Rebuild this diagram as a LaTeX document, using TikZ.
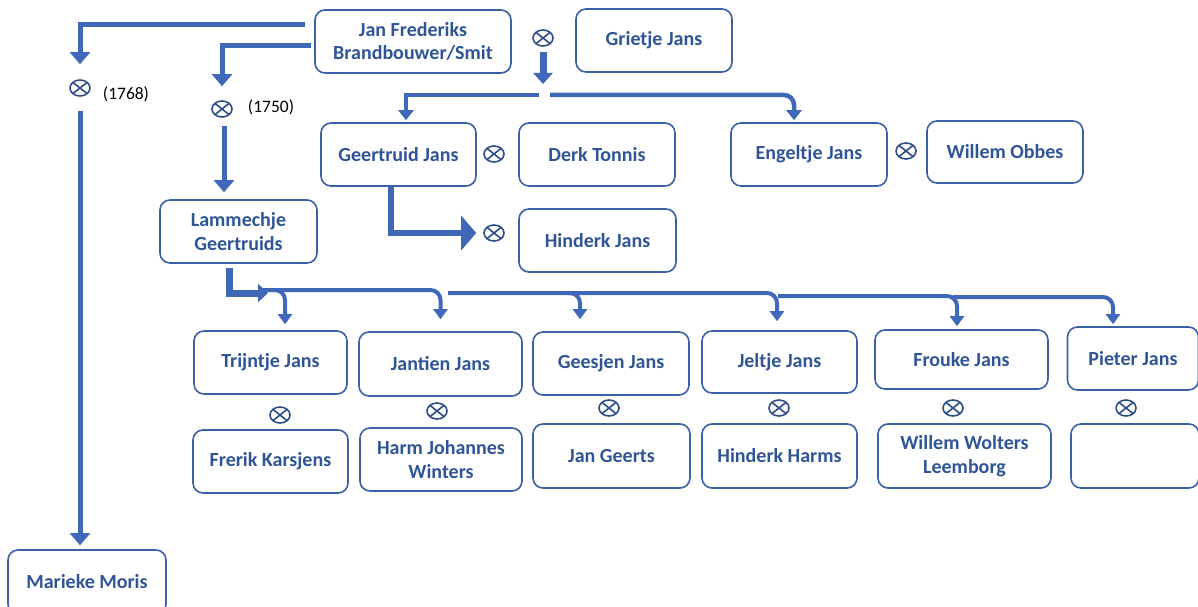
\documentclass[tikz,border=0pt]{standalone}
\usepackage{fontspec}
\setmainfont{Carlito}
\usetikzlibrary{arrows.meta,shapes.geometric}
\definecolor{txtc}{HTML}{2F5597}
\definecolor{boxc}{HTML}{3A60A6}
\definecolor{arrc}{HTML}{3F69B8}
\definecolor{mrkc}{HTML}{2E4C87}
\begin{document}
\begin{tikzpicture}[x=1pt,y=-1pt,
  box/.style={draw=boxc, line width=1.6pt, rounded corners=10pt, fill=white, text=txtc,
    font=\fontsize{20}{23.5}\selectfont\bfseries, align=center, inner sep=0pt},
  mar/.style={ellipse, draw=mrkc, line width=1.6pt, minimum width=20pt, minimum height=16pt, inner sep=0pt,
    path picture={\draw[mrkc,line width=1.6pt] (path picture bounding box.north west)--(path picture bounding box.south east)
      (path picture bounding box.north east)--(path picture bounding box.south west);}},
  yr/.style={font=\fontsize{17.5}{20}\selectfont, text=black},
  conn/.style={draw=arrc, line width=5pt, -{Triangle[width=20pt,length=12pt]}},
  connw/.style={draw=arrc, line width=7pt, -{Triangle[width=19pt,length=11pt]}},
  busl/.style={draw=arrc, line width=4.5pt, -{Triangle[width=15pt,length=10pt]}},
  bus/.style={draw=arrc, line width=4pt, rounded corners=10pt, -{Triangle[width=14pt,length=10pt]}},
  fatH/.style={draw=arrc, line width=6pt, -{Triangle[width=34pt,length=15pt]}},
  fatL/.style={draw=arrc, line width=7pt, -{Triangle[width=18pt,length=10pt]}},
]
\useasboundingbox (0,0) rectangle (1198,607);
\clip (0,0) rectangle (1198,607);

% persons
\node[box, minimum width=196pt, minimum height=63pt] (jan) at (413,41.5) {Jan Frederiks\\Brandbouwer/Smit};
\node[box, minimum width=156pt, minimum height=63pt] (grietje) at (654,40.5) {Grietje Jans};
\node[box, minimum width=155pt, minimum height=63pt] (geertruid) at (398.5,154.5) {Geertruid Jans};
\node[box, minimum width=156pt, minimum height=63pt] (derk) at (597,154.5) {Derk Tonnis};
\node[box, minimum width=156pt, minimum height=63pt] (engeltje) at (809,154.5) {Engeltje Jans};
\node[box, minimum width=156pt, minimum height=62pt] (obbes) at (1005,152) {Willem Obbes};
\node[box, minimum width=157pt, minimum height=63pt] (hinderk) at (597.5,240.5) {Hinderk Jans};
\node[box, minimum width=157pt, minimum height=63pt] (lammechje) at (238.5,231.5) {Lammechje\\Geertruids};
\node[box, minimum width=158pt, minimum height=64pt] (marieke) at (87,582) {Marieke Moris};

\node[box, minimum width=153pt, minimum height=63pt] (trijntje) at (270.5,362.5) {Trijntje Jans};
\node[box, minimum width=163pt, minimum height=64pt] (jantien) at (440.5,364) {Jantien Jans};
\node[box, minimum width=156pt, minimum height=63pt] (geesjen) at (611,363.5) {Geesjen Jans};
\node[box, minimum width=155pt, minimum height=62pt] (jeltje) at (779.5,362) {Jeltje Jans};
\node[box, minimum width=173pt, minimum height=59pt] (frouke) at (961.5,359.5) {Frouke Jans};
\node[box, minimum width=131pt, minimum height=63pt] (pieter) at (1133,358.5) {Pieter Jans};

\node[box, minimum width=155pt, minimum height=63pt] (frerik) at (270.5,461.5) {Frerik Karsjens};
\node[box, minimum width=162pt, minimum height=63pt] (harm) at (441,459.5) {Harm Johannes\\Winters};
\node[box, minimum width=157pt, minimum height=64pt] (jangeerts) at (611.5,456) {Jan Geerts};
\node[box, minimum width=155pt, minimum height=64pt] (hharms) at (779.5,456) {Hinderk Harms};
\node[box, minimum width=173pt, minimum height=64pt] (wolters) at (964.5,456) {Willem Wolters\\Leemborg};
\node[box, minimum width=128pt, minimum height=64pt] (empty) at (1135,456) {};

% marriage symbols
\node[mar] (m1768) at (80,88) {};
\node[mar] (m1750) at (222,109) {};
\node[mar] (mjg) at (543,38) {};
\node[mar] (mgd) at (494,154) {};
\node[mar] (mgh) at (494,233) {};
\node[mar] (meo) at (906,151) {};
\node[mar] (k1) at (280,415) {};
\node[mar] (k2) at (437,411) {};
\node[mar] (k3) at (609,408) {};
\node[mar] (k4) at (779,408) {};
\node[mar] (k5) at (953,408) {};
\node[mar] (k6) at (1126,408) {};

\node[yr] (y1768) at (126,94) {(1768)};
\node[yr] (y1750) at (271,107) {(1750)};

% connectors
\draw[conn] ([shift={(-9,-16.5)}]jan.west) -| ([yshift=15pt]m1768.north);
\draw[conn] ([yshift=-14pt]m1768.south) -- ([yshift=4pt]m1768 |- marieke.north);
\draw[conn] ([shift={(-3,4.5)}]jan.west) -| ([yshift=14pt]m1750.north);
\draw[conn] ([shift={(2,8.5)}]m1750.south) -- ([shift={(2,-7)}]m1750 |- lammechje.north);

\coordinate (bj) at (543,95);
\draw[connw] ([yshift=-5pt]mjg.south) -- ([yshift=11pt]bj);
\draw[busl] ([xshift=-4pt]bj) -| ([shift={(7.5,-2)}]geertruid.north);
\draw[busl, rounded corners=10pt] ([xshift=7pt]bj) -| ([shift={(-15,-2)}]engeltje.north);

\draw[fatH] ([xshift=-7.5pt]geertruid.south) |- ([xshift=-7pt]mgh.west);

\coordinate (kids) at (268,293);
\draw[fatL] ([shift={(-9,4)}]lammechje.south) |- (kids);

\coordinate (b1) at (262,290);
\coordinate (b2) at (448,293);
\coordinate (b3) at (778,296);
\coordinate (b4) at (953,297);
\draw[bus] (b1) -| ([yshift=12pt]jantien.north);
\draw[bus] (b1) -| ([shift={(14.5,-6)}]trijntje.north);
\draw[bus] (b2) -| ([shift={(-2.5,-9)}]jeltje.north);
\draw[bus] ([xshift=120pt]b2) -| ([shift={(-31,-12)}]geesjen.north);
\draw[bus] (b3) -| ([shift={(-4.5,-3)}]frouke.north);
\draw[bus] (b4) -| ([shift={(-20,-2)}]pieter.north);
\end{tikzpicture}
\end{document}
